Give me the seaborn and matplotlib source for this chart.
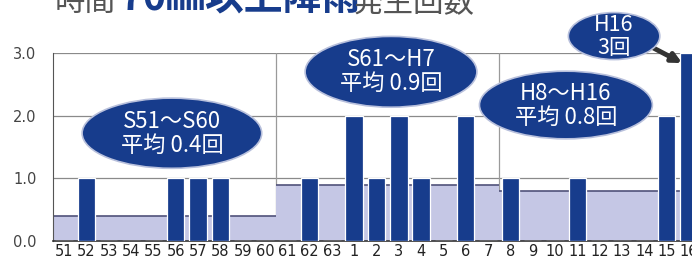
import numpy as np
import pandas as pd
import seaborn as sns
import matplotlib.pyplot as plt
from matplotlib.patches import Ellipse

years = ['51', '52', '53', '54', '55', '56', '57', '58', '59', '60', '61', '62', '63',
         '1', '2', '3', '4', '5', '6', '7', '8', '9', '10', '11', '12', '13', '14', '15', '16']
counts = [0, 1, 0, 0, 0, 1, 1, 1, 0, 0, 0, 1, 0,
          2, 1, 2, 1, 0, 2, 0, 1, 0, 0, 1, 0, 0, 0, 2, 3]
period_names = ['S51～S60', 'S61～H7', 'H8～H16']
period_sizes = [10, 10, 9]
period_avgs = [0.4, 0.9, 0.8]
yticks = [0.0, 1.0, 2.0, 3.0]

navy = '#173c8c'
lavender = '#c5c7e5'

sns.set_style('white')
plt.rcParams['font.family'] = ['Noto Sans CJK JP', 'DejaVu Sans']

band = np.repeat(period_avgs, period_sizes)
df = pd.DataFrame({'year': years, 'count': counts, 'band': band})

fig = plt.figure(figsize=(6.92, 2.59), dpi=100)
ax = fig.add_axes([53 / 692, 18 / 259, 647 / 692, 188 / 259])

# average band per period
sns.barplot(data=df, x='year', y='band', order=years, color=lavender, width=1.0,
            saturation=1, edgecolor='none', linewidth=0, ax=ax, zorder=1)
start = 0
for size, avg in zip(period_sizes, period_avgs):
    ax.hlines(avg, start - 0.5, start + size - 0.5, color='#50527a', lw=1.2, zorder=2)
    start += size

# yearly counts
sns.barplot(data=df, x='year', y='count', order=years, color=navy, width=0.78,
            saturation=1, edgecolor='white', linewidth=0.9, ax=ax, zorder=3)

# grid + period dividers
for y in yticks[1:]:
    ax.axhline(y, color='#8a8a8a', lw=0.9, zorder=0.5)
start = 0
for size in period_sizes[:-1]:
    start += size
    ax.axvline(start - 0.5, color='#9a9a9a', lw=0.9, zorder=0.5)

ax.set_xlim(-0.5, len(years) - 0.5)
ax.set_ylim(0, 3.0)
ax.set_xlabel('')
ax.set_ylabel('')
ax.set_yticks(yticks)
ax.set_yticklabels([f'{v:.1f}' for v in yticks], fontsize=10.5, color='#444444',
                   family='DejaVu Sans')
ax.set_xticks(range(len(years)))
ax.set_xticklabels(years, fontsize=10.5, color='#222222', family='Liberation Sans Narrow')
ax.tick_params(axis='x', direction='in', length=3, pad=2, color='#444444')
ax.tick_params(axis='y', direction='in', length=8, pad=12, color='#444444')
for s in ['top', 'right']:
    ax.spines[s].set_visible(False)
ax.spines['left'].set_color('#555555')
ax.spines['bottom'].set_color('#333333')
ax.spines['bottom'].set_linewidth(1.2)

# callout bubbles: (center x, center y, width, height) in data units
bubbles = [
    (4.83, 1.72, 8.05, 1.12, f'{period_names[0]}\n平均 {period_avgs[0]}回'),
    (14.65, 2.70, 7.7, 1.13, f'{period_names[1]}\n平均 {period_avgs[1]}回'),
    (22.49, 2.17, 7.75, 1.08, f'{period_names[2]}\n平均 {period_avgs[2]}回'),
    (24.65, 3.27, 4.1, 0.75, f'H{years[-1]}\n{counts[-1]}回'),
]
for bx, by, bw, bh, label in bubbles:
    ax.add_patch(Ellipse((bx, by), bw, bh, fc=navy, ec='#b8c0dc', lw=1.2,
                         zorder=5, clip_on=False))
    ax.text(bx, by, label, color='white', fontsize=16 if bw > 5 else 15.5,
            ha='center', va='center', linespacing=1.05, zorder=6)

ax.annotate('', xy=(27.7, 2.84), xytext=(26.2, 3.12), annotation_clip=False,
            arrowprops=dict(arrowstyle='-|>', color='#333333', lw=3.5, mutation_scale=14,
                            shrinkA=0, shrinkB=0), zorder=4)

# title, cut off at the top edge
fig.text(55 / 692, 0.93, '時間', fontsize=22, color='#555555', va='bottom')
fig.text(120 / 692, 0.93, '70㎜以上降雨', fontsize=28, color=navy, weight='bold',
         va='bottom')
fig.text(352 / 692, 0.93, '発生回数', fontsize=22, color='#555555', va='bottom')

fig.savefig('out.png', dpi=100)
